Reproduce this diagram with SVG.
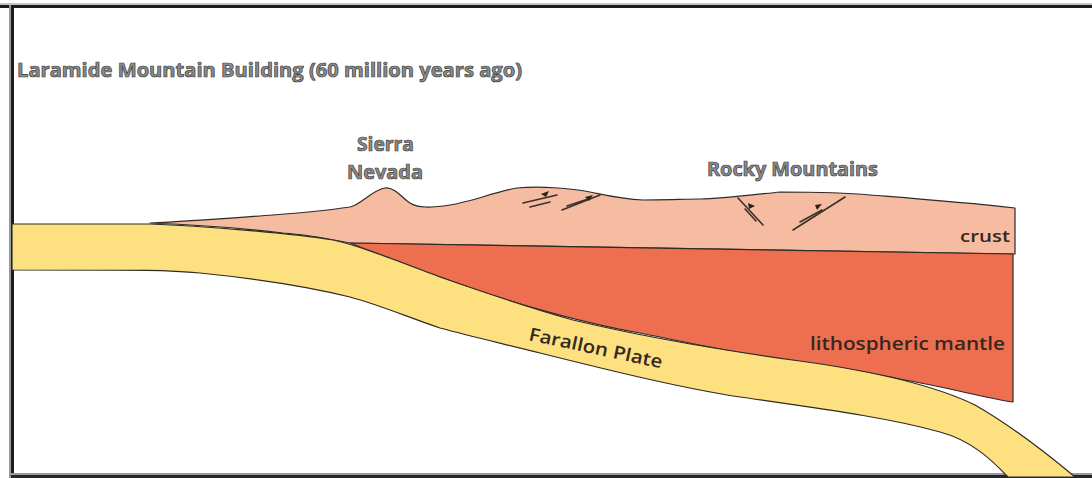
<svg xmlns="http://www.w3.org/2000/svg" width="1092" height="478" viewBox="0 0 1092 478">
  <style>
    .edge { stroke: #2e2a26; stroke-width: 1.2; stroke-linejoin: round; }
    .plate { fill: #fde07f; }
    .crust { fill: #f6bca2; }
    .mantle { fill: #ee6f50; }
    .fault { fill: none; stroke: #3a302a; stroke-width: 1.6; stroke-linecap: round; }
    .head { fill: #2a221c; }
    .title { font-family: "Open Sans", "Liberation Sans", sans-serif; font-weight: bold; fill: #8c8c8c; stroke: #3e3e3e; stroke-width: 0.7; }
    .label { font-family: "Open Sans", "Liberation Sans", sans-serif; font-weight: 600; fill: #35281f; }
  </style>

  <rect x="0" y="0" width="1092" height="478" fill="#ffffff"/>

  <!-- frame -->
  <g id="frame">
    <rect x="0" y="3" width="1092" height="2" fill="#c4c4c4"/>
    <rect x="0" y="5" width="1092" height="3" fill="#1c1c1c"/>
    <rect x="9" y="5" width="2" height="473" fill="#9a9a9a"/>
    <rect x="11" y="5" width="3" height="473" fill="#1c1c1c"/>
    <rect x="11" y="473" width="1081" height="2" fill="#9a9a9a"/>
    <rect x="11" y="475" width="1081" height="3" fill="#262626"/>
  </g>

  <!-- crust wedge with Sierra Nevada and Rocky Mountain relief -->
  <g id="crust">
    <path class="crust edge" d="M150,223 C190,221 230,218 273,215 C300,213 330,210 350,207 C362,204 372,190 385,188 C395,187 402,198 410,203 C418,208 430,208 450,205 C470,202 495,192 517,188 C540,186 570,188 590,192 C605,195 620,199 643,200 C660,200 690,199 700,199 C720,199 760,194 780,192 C820,192 850,193 870,195 C920,199 960,202 1015,208 L1015,254 L350,243 C320,237 300,234 283,233 C250,229 200,225 150,223 Z"/>
    <text class="label" x="960" y="242" font-size="17" textLength="50" lengthAdjust="spacingAndGlyphs">crust</text>
  </g>

  <!-- lithospheric mantle -->
  <g id="mantle">
    <path class="mantle edge" d="M350,243 L1013,254 L1013,402 C985,398 950,388 900,379 C850,369 810,364 773,358 C720,350 680,341 640,333 C600,326 560,316 507,300 C480,292 460,284 440,277 C420,270 380,255 350,243 Z"/>
    <text class="label" x="810" y="350" font-size="18" textLength="195" lengthAdjust="spacingAndGlyphs">lithospheric mantle</text>
  </g>

  <!-- subducting Farallon Plate -->
  <g id="farallon-plate">
    <path class="plate edge" d="M12,224 L150,224 C200,226 290,233 333,240 C360,246 390,258 440,277 C480,291 520,305 573,320 C640,336 720,350 800,361 C880,372 940,388 975,405 C1010,425 1045,452 1075,477 L1008,477 C990,458 970,440 940,432 C890,418 830,410 740,397 C680,388 600,368 540,353 C500,343 470,336 440,328 C410,318 380,305 350,297 C310,287 250,278 200,273 C170,270 150,270 12,270 Z"/>
    <text class="label" font-size="18" transform="translate(528,340) rotate(12)" textLength="136" lengthAdjust="spacingAndGlyphs">Farallon Plate</text>
  </g>

  <!-- thrust faults -->
  <g id="faults">
    <path class="fault" d="M523,203 L557,195"/>
    <path class="fault" d="M530,207 L550,202"/>
    <path class="head" d="M541,194 L549,191 L546,197 Z"/>
    <path class="fault" d="M562,210 L600,195"/>
    <path class="fault" d="M567,206 L588,199"/>
    <path class="head" d="M585,197 L593,195 L589,201 Z"/>
    <path class="fault" d="M738,198 L763,225"/>
    <path class="fault" d="M745,209 L756,221"/>
    <path class="head" d="M748,203 L755,206 L749,209 Z"/>
    <path class="fault" d="M845,197 L793,230"/>
    <path class="fault" d="M800,222 L822,210"/>
    <path class="head" d="M815,205 L822,204 L817,210 Z"/>
  </g>

  <!-- titles and region names -->
  <g id="labels">
    <text class="title" x="17" y="77" font-size="19" textLength="505" lengthAdjust="spacingAndGlyphs">Laramide Mountain Building (60 million years ago)</text>
    <text class="title" x="357" y="151" font-size="19" textLength="57" lengthAdjust="spacingAndGlyphs">Sierra</text>
    <text class="title" x="347" y="179" font-size="19" textLength="76" lengthAdjust="spacingAndGlyphs">Nevada</text>
    <text class="title" x="707" y="176" font-size="19" textLength="171" lengthAdjust="spacingAndGlyphs">Rocky Mountains</text>
  </g>
</svg>
